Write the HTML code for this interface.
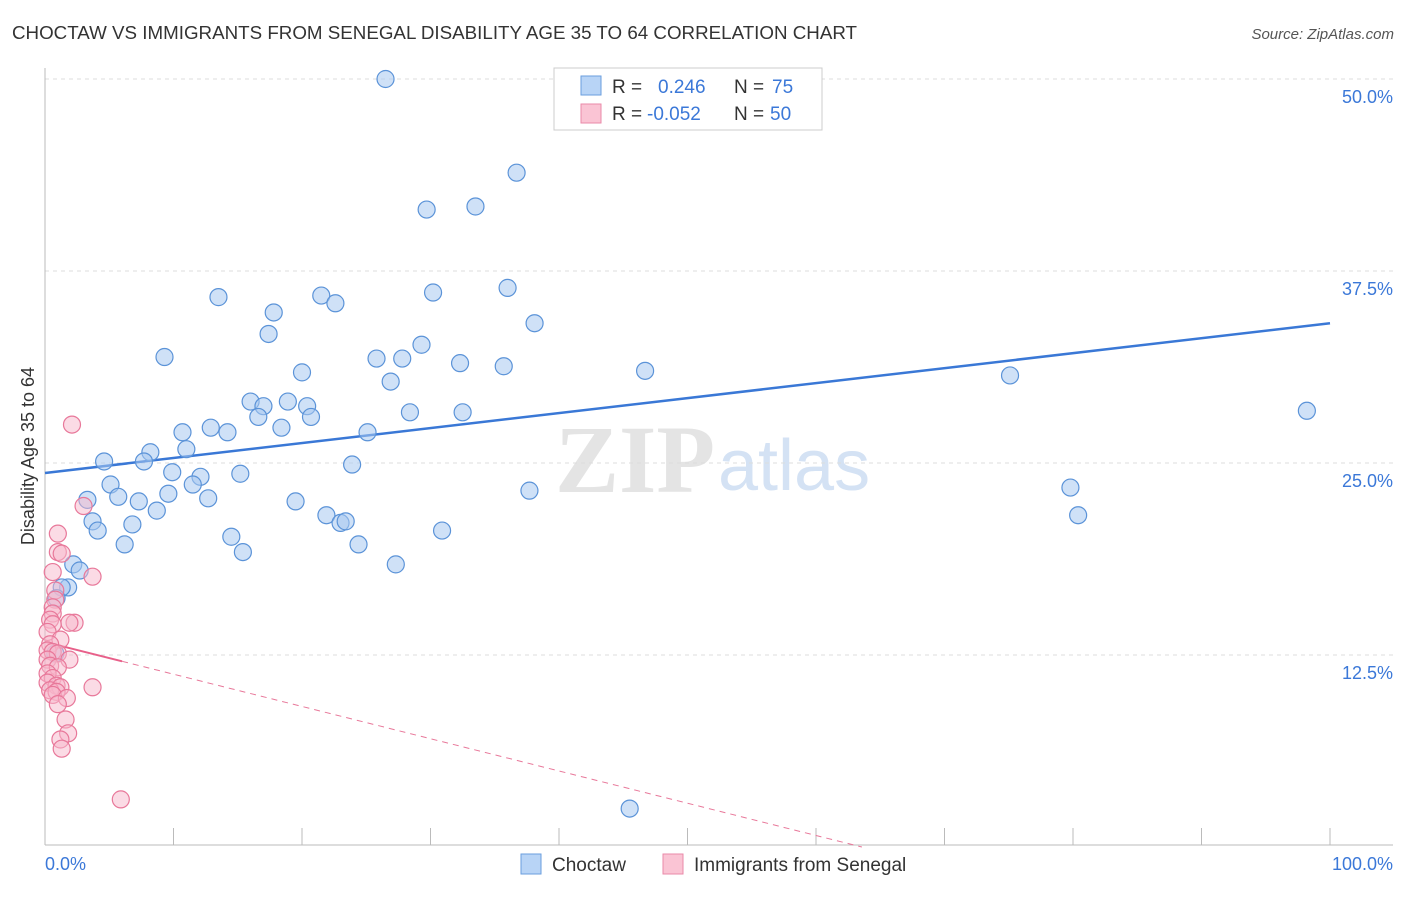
<!DOCTYPE html>
<html><head><meta charset="utf-8"><style>
body{margin:0;background:#fff;font-family:"Liberation Sans",sans-serif;}
</style></head><body>
<svg width="1406" height="892" xmlns="http://www.w3.org/2000/svg">
<text x="12" y="39" font-size="18" fill="#333" textLength="845" lengthAdjust="spacingAndGlyphs">CHOCTAW VS IMMIGRANTS FROM SENEGAL DISABILITY AGE 35 TO 64 CORRELATION CHART</text>
<text x="1394" y="39" font-size="15" fill="#555" font-style="italic" text-anchor="end">Source: ZipAtlas.com</text>
<g>
<text x="555" y="492" font-size="96" fill="#e4e4e4" font-family="Liberation Serif,serif" font-weight="bold">ZIP</text>
<text x="718" y="490" font-size="72" fill="#d4e2f4">atlas</text>
</g>
<g id="grid"></g>
<g id="axes"></g>
<text transform="translate(34,456) rotate(-90)" font-size="18" fill="#333" text-anchor="middle">Disability Age 35 to 64</text>
<g id="trend"></g>
<g id="points"></g>
<g>
<rect x="554" y="68" width="268" height="62" fill="#fff" stroke="#ccc"/>
<rect x="581" y="76" width="20" height="19" fill="#b8d4f6" stroke="#6a9ede"/>
<rect x="581" y="104" width="20" height="19" fill="#fac4d4" stroke="#ea8aa8"/>
<text x="612" y="93" font-size="19" fill="#333">R = </text><text x="658" y="93" font-size="19" fill="#3b78d8">0.246</text>
<text x="734" y="93" font-size="19" fill="#333">N = </text><text x="772" y="93" font-size="19" fill="#3b78d8">75</text>
<text x="612" y="120" font-size="19" fill="#333">R = </text><text x="647" y="120" font-size="19" fill="#3b78d8">-0.052</text>
<text x="734" y="120" font-size="19" fill="#333">N = </text><text x="770" y="120" font-size="19" fill="#3b78d8">50</text>
</g>
<g>
<rect x="521" y="854" width="20" height="20" fill="#b8d4f6" stroke="#6a9ede"/>
<text x="552" y="871" font-size="19" fill="#333">Choctaw</text>
<rect x="663" y="854" width="20" height="20" fill="#fac4d4" stroke="#ea8aa8"/>
<text x="694" y="871" font-size="19" fill="#333">Immigrants from Senegal</text>
</g>
</svg>
<script>
const yTicks=[12.5,25,37.5,50];
const yTickLabels=["12.5%","25.0%","37.5%","50.0%"];
const xTickLabels=["0.0%","100.0%"];
const blueX=[26.5,36.7,29.7,33.5,13.5,17.8,21.5,22.6,30.2,36.0,38.1,17.4,9.3,25.8,27.8,29.3,32.3,35.7,46.7,20.0,26.9,75.1,98.2,16.0,17.0,18.9,20.4,16.6,20.7,28.4,32.5,10.7,12.9,14.2,18.4,25.1,11.0,8.2,4.6,7.7,23.9,9.9,12.1,15.2,5.1,11.5,9.6,5.7,7.3,3.3,12.7,19.5,8.7,37.7,79.8,80.4,21.9,23.0,23.4,3.7,6.8,4.1,30.9,14.5,6.2,24.4,15.4,27.3,2.2,2.7,1.8,1.3,0.9,45.5,0.8];
const blueY=[50.0,43.9,41.5,41.7,35.8,34.8,35.9,35.4,36.1,36.4,34.1,33.4,31.9,31.8,31.8,32.7,31.5,31.3,31.0,30.9,30.3,30.7,28.4,29.0,28.7,29.0,28.7,28.0,28.0,28.3,28.3,27.0,27.3,27.0,27.3,27.0,25.9,25.7,25.1,25.1,24.9,24.4,24.1,24.3,23.6,23.6,23.0,22.8,22.5,22.6,22.7,22.5,21.9,23.2,23.4,21.6,21.6,21.1,21.2,21.2,21.0,20.6,20.6,20.2,19.7,19.7,19.2,18.4,18.4,18.0,16.9,16.9,16.2,2.5,12.6];
const pinkX=[2.1,3.0,1.0,1.0,1.3,3.7,0.6,0.8,0.8,0.6,0.6,0.4,2.3,1.9,0.6,0.2,1.2,0.4,0.2,0.6,1.0,1.9,0.2,0.4,1.0,0.2,0.6,0.2,0.9,1.2,3.7,0.4,0.9,0.6,1.7,1.0,1.6,1.8,1.2,1.3,5.9];
const pinkY=[27.5,22.2,20.4,19.2,19.1,17.6,17.9,16.7,16.1,15.6,15.2,14.8,14.6,14.6,14.5,14.0,13.5,13.2,12.8,12.7,12.6,12.2,12.2,11.8,11.7,11.3,11.0,10.7,10.5,10.4,10.4,10.2,10.1,9.9,9.7,9.3,8.3,7.4,7.0,6.4,3.1];
const blueTrend=[24.35,34.1];
const pinkTrend=[13.35,-0.21];
const NS="http://www.w3.org/2000/svg";
const X=v=>45+v*12.85, Y=v=>847-v*15.36;
function mk(tag,attrs,parent){const e=document.createElementNS(NS,tag);for(const k in attrs)e.setAttribute(k,attrs[k]);document.getElementById(parent).appendChild(e);return e;}
yTicks.forEach((t,i)=>{
 const g=mk('line',{x1:45,x2:1393,y1:Y(t),y2:Y(t),stroke:'#ddd','stroke-dasharray':'4,4'},'grid');
 
 
 const l=mk('text',{x:1393,y:Y(t)+24,'font-size':18,fill:'#3b78d8','text-anchor':'end'},'grid');
 l.textContent=yTickLabels[i];
 
 
});
const ax=mk('line',{x1:45,x2:1393,y1:845,y2:845,stroke:'#bbb'},'axes');


const ay=mk('line',{x1:45,x2:45,y1:68,y2:845,stroke:'#bbb'},'axes');


for(let i=1;i<=10;i++){const t=mk('line',{x1:X(i*10),x2:X(i*10),y1:828,y2:845,stroke:'#bbb'},'axes');
 
 }
const xl0=mk('text',{x:45,y:870,'font-size':18,fill:'#3b78d8'},'axes');xl0.textContent=xTickLabels[0];


const xl1=mk('text',{x:1393,y:870,'font-size':18,fill:'#3b78d8','text-anchor':'end'},'axes');xl1.textContent=xTickLabels[1];


blueX.forEach((x,i)=>{const c=mk('circle',{cx:X(x),cy:Y(blueY[i]),r:8.5,fill:'rgba(168,200,240,0.55)',stroke:'#5b93d8','stroke-width':1.2},'points');
 
 });
pinkX.forEach((x,i)=>{const c=mk('circle',{cx:X(x),cy:Y(pinkY[i]),r:8.5,fill:'rgba(248,184,204,0.5)',stroke:'#e8789a','stroke-width':1.2},'points');
 
 });
const bt=mk('line',{x1:X(0),y1:Y(blueTrend[0]),x2:X(100),y2:Y(blueTrend[1]),stroke:'#3a78d6','stroke-width':2.5},'trend');


const pe=6;
const ps=mk('line',{x1:X(0),y1:Y(pinkTrend[0]),x2:X(pe),y2:Y(pinkTrend[0]+pinkTrend[1]*pe),stroke:'#e8608a','stroke-width':2},'trend');


const xEnd=-pinkTrend[0]/pinkTrend[1];
const pd=mk('line',{x1:X(pe),y1:Y(pinkTrend[0]+pinkTrend[1]*pe),x2:X(xEnd),y2:Y(0),stroke:'#e8789a','stroke-width':1,'stroke-dasharray':'6,5'},'trend');


</script>
</body></html>
